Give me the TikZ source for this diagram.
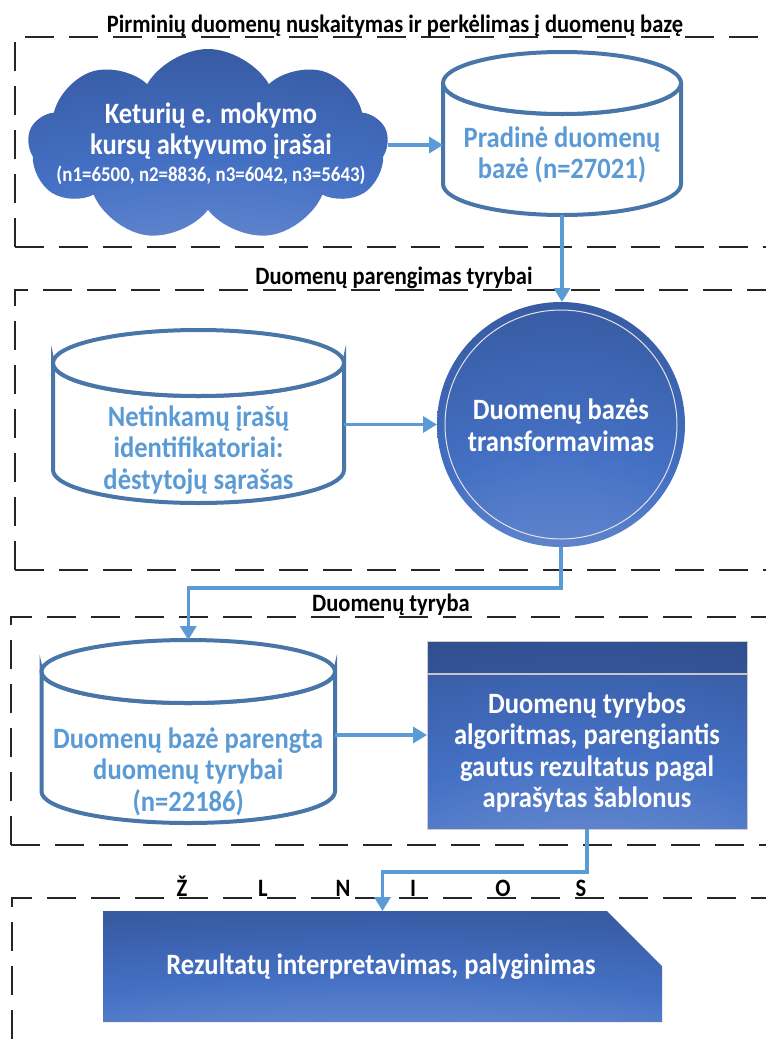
\documentclass[tikz,border=0pt]{standalone}
\usepackage{fontspec}
\setmainfont{Carlito}[FakeStretch=0.9]
\usetikzlibrary{shapes.symbols,shapes.geometric,arrows.meta,calc}
\definecolor{glowL}{RGB}{182,196,232}
\definecolor{glowM}{RGB}{68,112,196}
\definecolor{glowD}{RGB}{38,62,116}
\definecolor{cylline}{RGB}{72,118,168}
\definecolor{cyltext}{RGB}{91,155,213}
\definecolor{arrcol}{RGB}{91,155,213}
\pgfdeclareradialshading{glow}{\pgfpoint{0bp}{-90bp}}{color(0bp)=(glowL); color(15bp)=(glowL!65!glowM); color(45bp)=(glowM); color(70bp)=(glowD!65!glowM); color(100bp)=(glowD)}
\newcommand\drawcyl[3]{%
  \draw[cylst] ([yshift=-#3pt]#1.north west) arc[start angle=180,end angle=360,x radius=#2pt,y radius=#3pt]
     -- ([yshift=#3pt]#1.south east) arc[start angle=0,end angle=-180,x radius=#2pt,y radius=#3pt] -- cycle;
  \draw[cylst] ([yshift=-#3pt]#1.north) ellipse[x radius=#2pt, y radius=#3pt];}
\tikzset{
  arr/.style={draw=arrcol, line width=3.5pt, -{Triangle[length=14pt,width=16pt]}},
  dbox/.style={draw=black!85, line width=2pt, dash pattern=on 29pt off 15pt},
  cylst/.style={draw=cylline, line width=4pt, fill=white},
  anch/.style={inner sep=0pt, outer sep=0pt},
  ttl/.style={font=\bfseries\fontsize{25}{29}\selectfont, anchor=base, inner sep=0pt},
  wtxt/.style={text=white, font=\bfseries\fontsize{29.5}{31.5}\selectfont, align=center, inner sep=0pt},
  btxt/.style={text=cyltext, font=\bfseries\fontsize{29.5}{31.5}\selectfont, align=center, inner sep=0pt},
}
\begin{document}
\begin{tikzpicture}[x=1pt,y=-1pt]
\useasboundingbox (0,0) rectangle (766,1039);
% dashed frames
\draw[dbox] (15,247) -- (15,37) -- (766,37);
\draw[dbox] (15,247) -- (766,247);
\draw[dbox] (15,570) -- (15,290) -- (766,290);
\draw[dbox] (15,570) -- (766,570);
\draw[dbox] (11,845) -- (11,617) -- (766,617);
\draw[dbox] (11,845) -- (766,845);
\draw[dbox] (12,1039) -- (12,898) -- (766,898);
% titles
\node[ttl] (t1) at (395,32) {Pirminių duomenų nuskaitymas ir perkėlimas į duomenų bazę};
\node[ttl] (t2) at (394,284) {Duomenų parengimas tyrybai};
\node[ttl] (t3) at (391,611) {Duomenų tyryba};
\node[ttl] (z1) at (182,896) {Ž};
\node[ttl] (z2) at (263,896) {L};
\node[ttl] (z3) at (343,896) {N};
\node[ttl] (z4) at (413,896) {I};
\node[ttl] (z5) at (503,896) {O};
\node[ttl] (z6) at (581,896) {S};
% cloud
\node[cloud, cloud puffs=9, cloud puff arc=120, cloud ignores aspect, minimum width=360pt, minimum height=192pt, shading=glow, anch] (cloud) at (208,145) {};
\node[wtxt] (cloudt) at (211,131) {Keturių e. mokymo\\kursų aktyvumo įrašai};
\node[wtxt, font=\bfseries\fontsize{21}{24}\selectfont] (cloudn) at (211,175) {(n1=6500, n2=8836, n3=6042, n3=5643)};
% cylinder 1
\node[anch, minimum width=238pt, minimum height=163pt] (c1) at (562,133.5) {};
\drawcyl{c1}{119}{31}
\node[btxt] (c1t) at (562,155) {Pradinė duomenų\\bazė (n=27021)};
% cylinder 2
\node[anch, minimum width=291pt, minimum height=173pt] (c2) at (198.5,416.5) {};
\drawcyl{c2}{145.5}{33}
\node[btxt] (c2t) at (198.5,450) {Netinkamų įrašų\\identifikatoriai:\\dėstytojų sąrašas};
% ellipse
\node[ellipse, minimum width=248pt, minimum height=245pt, shading=glow, anch] (ell) at (561,424.5) {};
\draw[white!78!gray, line width=1pt] (ell.center) ellipse[x radius=116pt, y radius=114.5pt];
\node[wtxt] (ellt) at (561,425) {Duomenų bazės\\transformavimas};
% cylinder 3
\node[anch, minimum width=293.5pt, minimum height=183pt] (c3) at (188.25,731.5) {};
\drawcyl{c3}{146.75}{31.5}
\node[btxt] (c3t) at (188.25,771.5) {Duomenų bazė parengta\\duomenų tyrybai\\(n=22186)};
% algorithm box
\node[draw=gray!40, line width=1pt, shading=glow, minimum width=320pt, minimum height=188pt, anch] (alg) at (587,735) {};
\fill[glowD, opacity=0.35] ([shift={(0.5pt,-0.5pt)}]alg.north west) rectangle ([shift={(-0.5pt,-33pt)}]alg.north east);
\draw[gray!45, line width=1.2pt] ([yshift=-33pt]alg.north west) -- ([yshift=-33pt]alg.north east);
\node[wtxt] (algt) at (587,752.5) {Duomenų tyrybos\\algoritmas, parengiantis\\gautus rezultatus pagal\\aprašytas šablonus};
% result shape
\node[anch, minimum width=559pt, minimum height=111pt] (res) at (382.5,966.5) {};
\shade[shading=glow] (res.north west) -- ([xshift=-55pt]res.north east) -- ([yshift=-55pt]res.north east) -- (res.south east) -- (res.south west) -- cycle;
\node[wtxt] (rest) at (381,967) {Rezultatų interpretavimas, palyginimas};
% connectors
\draw[arr] (cloud.east) -- (cloud.east -| c1.west);
\draw[arr] (c1.south) -- (c1.south |- ell.north);
\draw[arr] (c2.east |- ell.west) -- (ell.west);
\draw[arr] (ell.south) -- ++(0,41) -| (c3.north);
\draw[arr] (alg.west -| c3.east) -- (alg.west);
\draw[arr] (alg.south) -- ++(0,43) -| (res.north);
\end{tikzpicture}
\end{document}
